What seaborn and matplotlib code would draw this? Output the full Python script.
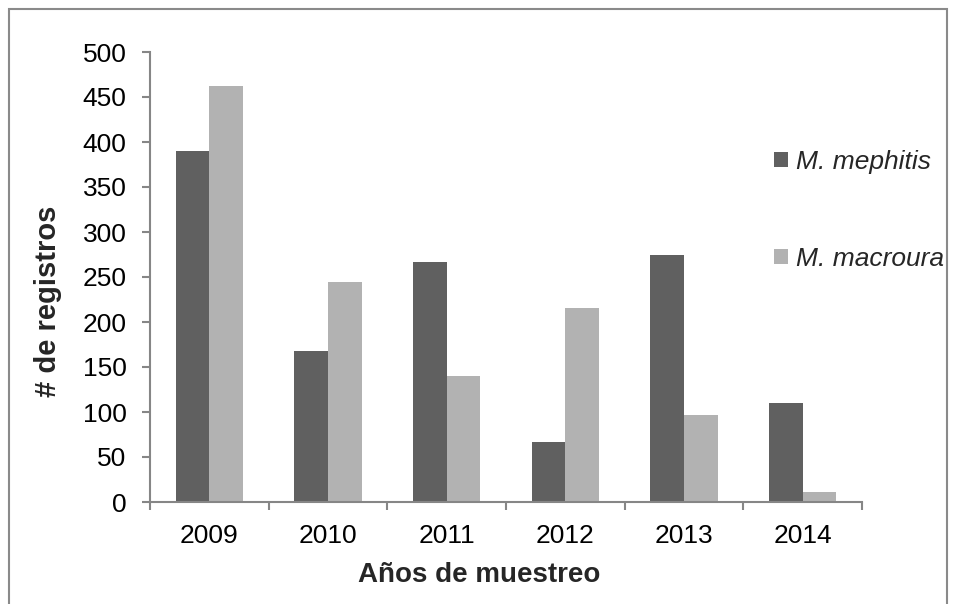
import matplotlib
matplotlib.use("Agg")
import matplotlib.pyplot as plt
import matplotlib.patches as mpatches
import seaborn as sns
import pandas as pd

years = ["2009", "2010", "2011", "2012", "2013", "2014"]
series_names = ["M. mephitis", "M. macroura"]
mephitis = [390, 168, 267, 67, 275, 110]
macroura = [462, 244, 140, 216, 97, 11]
colors = ["#606060", "#b2b2b2"]

df = pd.DataFrame({
    "Año": years * 2,
    "Especie": [series_names[0]] * len(years) + [series_names[1]] * len(years),
    "Registros": mephitis + macroura,
})

sns.set_theme(style="white")
plt.rcParams["font.family"] = ["Liberation Sans", "DejaVu Sans"]

W, H = 954, 604
fig = plt.figure(figsize=(W / 100, H / 100), dpi=100)
ax = fig.add_axes([150 / W, 1 - 502 / H, (862 - 150) / W, (502 - 52) / H])

sns.barplot(data=df, x="Año", y="Registros", hue="Especie", order=years,
            hue_order=series_names, palette=colors, width=0.567, gap=0,
            saturation=1, linewidth=0, ax=ax, legend=False)

spine_col = "#868686"
ax.set_ylim(0, 500)
ax.set_xlim(-0.5, len(years) - 0.5)
ax.set_yticks(range(0, 501, 50))
for side in ["top", "right"]:
    ax.spines[side].set_visible(False)
for side in ["left", "bottom"]:
    ax.spines[side].set_color(spine_col)
    ax.spines[side].set_linewidth(1.5)

ax.tick_params(axis="y", which="major", direction="out", length=6, width=1.5,
               color=spine_col, labelsize=19, labelcolor="black", pad=11, left=True)
ax.set_xticks(range(len(years)))
ax.set_xticklabels(years)
ax.set_xticks([i - 0.5 for i in range(len(years) + 1)], minor=True)
ax.tick_params(axis="x", which="major", length=0, labelsize=19,
               labelcolor="black", pad=16)
ax.tick_params(axis="x", which="minor", direction="out", length=6, width=1.5,
               color=spine_col, bottom=True)
ax.set_xlabel("")
ax.set_ylabel("")

fig.text(48 / W, 1 - 301 / H, "# de registros", rotation=90, ha="center",
         va="center", fontsize=21, fontweight="bold")
fig.text(479 / W, 1 - 575 / H, "Años de muestreo", ha="center",
         va="center", fontsize=20, fontweight="bold")

handles = [mpatches.Patch(facecolor=c, edgecolor="none") for c in colors]
leg = fig.legend(handles, series_names, loc="upper left",
                 bbox_to_anchor=(774 / W, 1 - 150 / H), frameon=False,
                 prop={"size": 19, "style": "italic"}, handlelength=0.52,
                 handleheight=0.52, handletextpad=0.3, labelspacing=2.75,
                 borderpad=0, borderaxespad=0)

fig.patches.append(mpatches.Rectangle((9 / W, -0.05), (947 - 9) / W, 1.05 - 9 / H,
                                      transform=fig.transFigure, fill=False,
                                      edgecolor="#8a8a8a", linewidth=1.5))

fig.savefig("out.png", dpi=100)
